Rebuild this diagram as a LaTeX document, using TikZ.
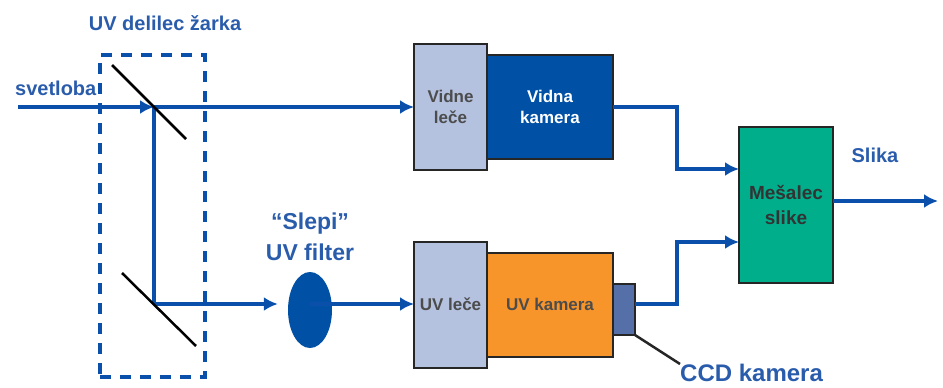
\documentclass[tikz,border=0pt]{standalone}
\usepackage{fontspec}
\setmainfont{Liberation Sans}
\usepackage{xcolor}
\usetikzlibrary{arrows.meta,positioning,calc,shapes.geometric}
\definecolor{linkblue}{HTML}{0A50AA}
\definecolor{textblue}{HTML}{2A5CAC}
\definecolor{lensblue}{HTML}{B4C2E0}
\definecolor{camblue}{HTML}{0050A5}
\definecolor{camorange}{HTML}{F7952B}
\definecolor{mixgreen}{HTML}{00AE8C}
\definecolor{ccdblue}{HTML}{5570A8}

\begin{document}
\begin{tikzpicture}[
    x=1pt, y=-1pt,
    box/.style={rectangle, draw=black!85, line width=2pt, outer sep=0pt, align=center, inner sep=0pt, font=\bfseries},
    lens/.style={box, fill=lensblue, minimum width=73pt, minimum height=126pt, text=black!70, font=\bfseries\fontsize{17}{21}\selectfont},
    camera/.style={box, minimum width=126pt, minimum height=104pt, font=\bfseries\fontsize{17}{21}\selectfont},
    label/.style={text=textblue, font=\bfseries\fontsize{20}{24}\selectfont, inner sep=0pt},
    arrow/.style={-{Latex[length=14pt,width=14pt]}, line width=3.5pt, draw=linkblue},
    link/.style={line width=3.5pt, draw=linkblue},
    mirror/.style={line width=2.5pt, draw=black}
]
\useasboundingbox (0,0) rectangle (943,388);
\node[draw=linkblue, line width=3.5pt, dash pattern=on 11pt off 9pt, minimum width=105pt, minimum height=322pt] (splitter) at (152.5,216) {};
\node[lens] (vislens) at (450.5,107) {Vidne\\leče};
\node[camera, fill=camblue, text=white, right=0pt of vislens] (viscam) {Vidna\\kamera};
\node[lens] (uvlens) at (450.5,304.5) {UV leče};
\node[camera, fill=camorange, text=black!70, right=0pt of uvlens] (uvcam) {UV kamera};
\node[box, fill=ccdblue, minimum width=22pt, minimum height=51pt] (ccd) at (624,309.5) {};
\node[box, fill=mixgreen, minimum width=94pt, minimum height=156pt, font=\bfseries\fontsize{19}{25}\selectfont, text=black!80] (mixer) at (786,205) {Mešalec\\slike};
\node[ellipse, fill=camblue, minimum width=44pt, minimum height=76pt, inner sep=0pt] (filter) at (310,310) {};
\node[label] (splitlabel) at (165,23) {UV delilec žarka};
\node[label, anchor=west] (inlabel) at (15,88) {svetloba};
\node[label, align=center, font=\bfseries\fontsize{23}{31}\selectfont] (filterlabel) at (310,237) {“Slepi”\\UV filter};
\node[label] (outlabel) at (875,155) {Slika};
\node[label, anchor=west, font=\bfseries\fontsize{24}{27}\selectfont] (ccdlabel) at (680,373) {CCD kamera};
\coordinate (input) at (18,107);
\coordinate (split1) at (154,107);
\coordinate (split2) at (154,304);
\coordinate (output) at (938,201);
\coordinate (mirror1a) at (112,65);
\coordinate (mirror1b) at (186,139);
\coordinate (mirror2a) at (122,273);
\coordinate (mirror2b) at (196,346);
\draw[arrow] (input) -- (split1);
\draw[arrow] (split1) -- (vislens.west);
\draw[link] (split1) -- (split2);
\draw[arrow, shorten >=10pt] (split2) -- (filter.west |- split2);
\draw[arrow] (filter.center |- split2) -- (uvlens.west |- split2);
\draw[arrow] (viscam.east) -- (677,107) -- (677,169) -- (mixer.west |- 0,169);
\draw[arrow] (ccd.east |- 0,304) -- (677,304) -- (677,242) -- (mixer.west |- 0,242);
\draw[arrow] (mixer.east |- output) -- (output);
\draw[mirror] (mirror1a) -- (mirror1b);
\draw[mirror] (mirror2a) -- (mirror2b);
\draw[line width=2.5pt, draw=black!85] (ccd.south east) -- (ccdlabel.north west);
\end{tikzpicture}
\end{document}
